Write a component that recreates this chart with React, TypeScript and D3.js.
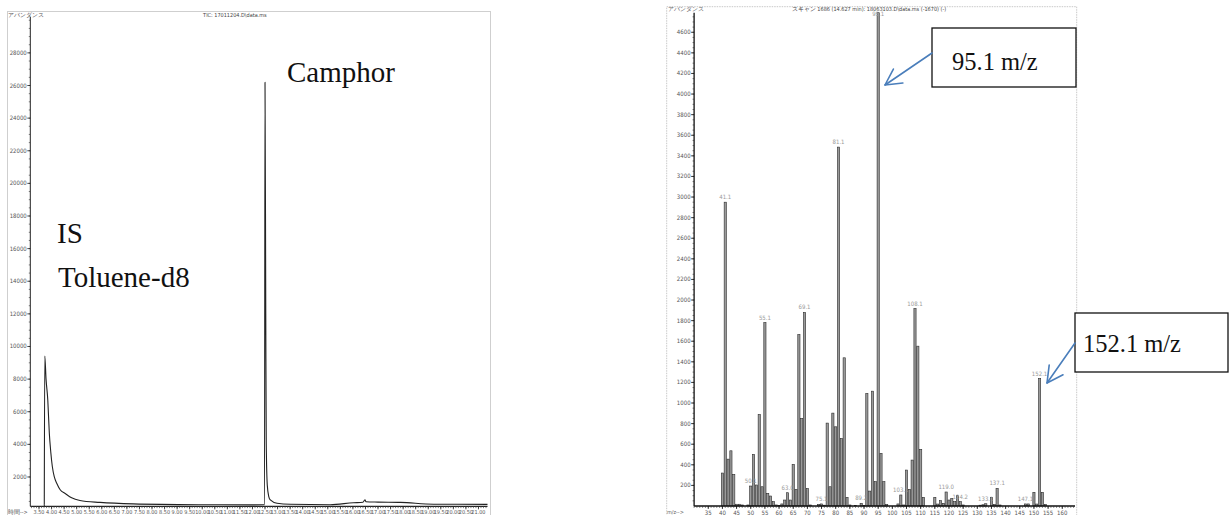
import React from 'react';
import * as d3 from 'd3';

// ---------- Left: TIC chromatogram ----------
const ticTime = [3.71, 3.73, 3.78, 3.85, 3.91, 3.97, 4.03, 4.11, 4.21, 4.35, 4.54, 4.80, 5.13, 5.93, 7.25, 9.92, 12.0, 12.48, 12.50, 12.53, 12.55, 12.59, 12.65, 12.71, 12.98, 13.51, 15.10, 16.02, 16.40, 16.48, 16.52, 17.00, 17.90, 19.21, 21.36];
const ticAbund = [300, 9420, 8000, 6700, 4700, 3500, 2640, 2000, 1600, 1200, 990, 720, 560, 440, 350, 300, 290, 300, 26200, 12000, 4000, 1500, 800, 590, 385, 325, 300, 420, 450, 600, 480, 460, 440, 330, 320];
const ticYTicks = [2000, 4000, 6000, 8000, 10000, 12000, 14000, 16000, 18000, 20000, 22000, 24000, 26000, 28000];
const ticXTicks = [3.5, 4, 4.5, 5, 5.5, 6, 6.5, 7, 7.5, 8, 8.5, 9, 9.5, 10, 10.5, 11, 11.5, 12, 12.5, 13, 13.5, 14, 14.5, 15, 15.5, 16, 16.5, 17, 17.5, 18, 18.5, 19, 19.5, 20, 20.5, 21];
const ticTitle = 'TIC: 17011204.D\\data.ms';

// ---------- Right: mass spectrum ----------
const msMz = [40, 41, 42, 43, 44, 45, 46, 47, 49, 50, 51, 52, 53, 54, 55, 56, 57, 58, 59, 60, 61, 62, 63, 64, 65, 66, 67, 68, 69, 70, 71, 74, 75, 76, 77, 78, 79, 80, 81, 82, 83, 84, 85, 87, 89, 90, 91, 92, 93, 94, 95, 96, 97, 98, 102, 103, 104, 105, 106, 107, 108, 109, 110, 111, 115, 116, 117, 118, 119, 120, 121, 122, 123, 124, 125, 131, 132, 133, 135, 136, 137, 138, 147, 148, 150, 151, 152, 153, 154];
const msAbund = [320, 2950, 455, 536, 307, 17, 17, 10, 10, 194, 501, 204, 889, 187, 1781, 123, 97, 42, 10, 5, 20, 58, 129, 58, 404, 160, 1665, 851, 1879, 170, 10, 15, 20, 8, 805, 187, 902, 769, 3485, 656, 1439, 84, 10, 3, 26, 5, 1093, 145, 1115, 236, 4790, 511, 236, 16, 20, 107, 10, 349, 162, 446, 1917, 1552, 550, 84, 84, 19, 52, 26, 136, 58, 74, 42, 100, 42, 10, 8, 12, 22, 84, 16, 171, 10, 20, 20, 133, 19, 1238, 133, 16];
const msLabelMz = [41, 50, 55, 63, 69, 75, 81, 89, 95, 103, 108, 119, 124, 133, 137, 147, 152];
const msLabelText = ['41.1', '50.1', '55.1', '63.0', '69.1', '75.1', '81.1', '89.2', '95.1', '103.1', '108.1', '119.0', '124.2', '133.1', '137.1', '147.1', '152.1'];
const msYTicks = [200, 400, 600, 800, 1000, 1200, 1400, 1600, 1800, 2000, 2200, 2400, 2600, 2800, 3000, 3200, 3400, 3600, 3800, 4000, 4200, 4400, 4600];
const msXTicks = [35, 40, 45, 50, 55, 60, 65, 70, 75, 80, 85, 90, 95, 100, 105, 110, 115, 120, 125, 130, 135, 140, 145, 150, 155, 160];
const msTitle = 'スキャン 1686 (14.627 min): 18063103.D\\data.ms (-1670) (-)';

const TICK_FONT = "'Liberation Sans Narrow', 'Arial Narrow', 'DejaVu Sans Condensed', sans-serif";
const SERIF = "'Liberation Serif', 'Times New Roman', serif";
const BLUE = '#4a7ebb';

function Arrow({ x1, y1, x2, y2, head = 18, angle = 28 }: { x1: number; y1: number; x2: number; y2: number; head?: number; angle?: number }) {
  const a = Math.atan2(y1 - y2, x1 - x2);
  const r = (angle * Math.PI) / 180;
  const ax = x2 + head * Math.cos(a + r);
  const ay = y2 + head * Math.sin(a + r);
  const bx = x2 + head * Math.cos(a - r);
  const by = y2 + head * Math.sin(a - r);
  return (
    <g stroke={BLUE} strokeWidth={1.6} fill="none" strokeLinecap="round" strokeLinejoin="round">
      <line x1={x1} y1={y1} x2={x2} y2={y2} />
      <polyline points={`${ax},${ay} ${x2},${y2} ${bx},${by}`} />
    </g>
  );
}

export default function App() {
  // Left scales
  const xL = d3.scaleLinear().domain([3.153, 21.36]).range([30.3, 487.5]);
  const yL = d3.scaleLinear().domain([0, 30200]).range([509.6, 17]);
  const axisL = yL(200);
  const ticLine = d3
    .line<number>()
    .x((_, i) => xL(ticTime[i]))
    .y((d) => yL(d))
    .curve(d3.curveMonotoneX)(ticAbund) as string;
  const ticXMinor = d3.range(3.2, 21.35, 0.1);
  const ticYMinor = d3.range(500, 30001, 500);

  // Right scales
  const xR = d3.scaleLinear().domain([30, 164.5]).range([694.1, 1075]);
  const yR = d3.scaleLinear().domain([0, 4790]).range([506, 12.7]);
  const msXMinor = d3.range(30, 165, 1);
  const msYMinor = d3.range(50, 4790, 50);

  return (
    <svg width={1230} height={515} style={{ position: 'absolute', left: 0, top: 0, background: '#fff' }} xmlns="http://www.w3.org/2000/svg">
      <rect x={0} y={0} width={1230} height={515} fill="#fff" />

      {/* ===== Left chart ===== */}
      <rect x={7.5} y={11.5} width={483} height={520} fill="none" stroke="#cfcfcf" strokeWidth={1} />
      <text x={8} y={17} fontSize={5.5} fontFamily={TICK_FONT} fill="#555">アバンダンス</text>
      <text x={xL(11.3)} y={17} fontSize={5.5} fontFamily={TICK_FONT} fill="#444" textAnchor="middle">{ticTitle}</text>
      <text x={8} y={514} fontSize={5.5} fontFamily={TICK_FONT} fill="#555">時間--&gt;</text>

      {/* y axis */}
      <line x1={xL.range()[0]} x2={xL.range()[0]} y1={yL.range()[1]} y2={axisL} stroke="#222" strokeWidth={1} />
      {ticYMinor.map((v) => (
        <line key={'lym' + v} x1={xL.range()[0] - 1.5} x2={xL.range()[0]} y1={yL(v)} y2={yL(v)} stroke="#444" strokeWidth={0.7} />
      ))}
      {ticYTicks.map((v) => (
        <g key={'lyt' + v}>
          <line x1={xL.range()[0] - 3} x2={xL.range()[0]} y1={yL(v)} y2={yL(v)} stroke="#222" strokeWidth={0.8} />
          <text x={xL.range()[0] - 3.5} y={yL(v) + 2} fontSize={6} fontFamily={TICK_FONT} fill="#555" textAnchor="end">{v}</text>
        </g>
      ))}

      {/* x axis */}
      <line x1={xL.range()[0]} x2={xL.range()[1]} y1={axisL} y2={axisL} stroke="#222" strokeWidth={1.2} />
      {ticXMinor.map((t, i) => (
        <line key={'lxm' + i} x1={xL(t)} x2={xL(t)} y1={axisL} y2={axisL + 1.8} stroke="#444" strokeWidth={0.7} />
      ))}
      {ticXTicks.map((t) => (
        <g key={'lxt' + t}>
          <line x1={xL(t)} x2={xL(t)} y1={axisL} y2={axisL + 3} stroke="#222" strokeWidth={0.8} />
          <text x={xL(t)} y={axisL + 8} fontSize={5.5} fontFamily={TICK_FONT} fill="#555" textAnchor="middle">{t.toFixed(2)}</text>
        </g>
      ))}

      {/* trace */}
      <path d={ticLine} fill="none" stroke="#222" strokeWidth={1.1} strokeLinejoin="round" />
      <line x1={xL(ticTime[0])} x2={xL(ticTime[0])} y1={axisL} y2={yL(ticAbund[0])} stroke="#222" strokeWidth={1} />

      {/* annotations */}
      <text x={287} y={81.7} fontSize={29} fontFamily={SERIF} fill="#111">Camphor</text>
      <text x={57} y={242.7} fontSize={29} fontFamily={SERIF} fill="#111">IS</text>
      <text x={58} y={287.3} fontSize={29} fontFamily={SERIF} fill="#111">Toluene-d8</text>

      {/* ===== Right chart ===== */}
      <rect x={666.7} y={6.7} width={410} height={520} fill="none" stroke="#c8c8c8" strokeWidth={1} strokeDasharray="1.5,1" />
      <text x={668} y={11} fontSize={5.5} fontFamily={TICK_FONT} fill="#666">アバンダンス</text>
      <text x={869} y={11} fontSize={5.5} fontFamily={TICK_FONT} fill="#444" textAnchor="middle">{msTitle}</text>
      <text x={667} y={514} fontSize={5.5} fontFamily={TICK_FONT} fill="#666">m/z--&gt;</text>

      {/* bars */}
      {msMz.map((m, i) => (
        <rect key={'bar' + m} x={xR(m) - 1.1} width={2.2} y={yR(msAbund[i])} height={yR(0) - yR(msAbund[i])} fill="#9a9a9a" stroke="#2a2a2a" strokeWidth={0.6} />
      ))}
      {msLabelMz.map((m, i) => {
        const v = msAbund[msMz.indexOf(m)];
        const y = Math.max(yR(v) - 3, 16);
        return (
          <text key={'lbl' + m} x={xR(m)} y={y} fontSize={6} fontFamily={TICK_FONT} fill="#999" textAnchor="middle">{msLabelText[i]}</text>
        );
      })}

      {/* y axis */}
      <line x1={xR.range()[0]} x2={xR.range()[0]} y1={yR.range()[1]} y2={yR(0)} stroke="#111" strokeWidth={1.3} />
      {msYMinor.map((v) => (
        <line key={'rym' + v} x1={xR.range()[0] - 1.5} x2={xR.range()[0]} y1={yR(v)} y2={yR(v)} stroke="#333" strokeWidth={0.7} />
      ))}
      {msYTicks.map((v) => (
        <g key={'ryt' + v}>
          <line x1={xR.range()[0] - 3} x2={xR.range()[0]} y1={yR(v)} y2={yR(v)} stroke="#111" strokeWidth={0.8} />
          <text x={xR.range()[0] - 3.5} y={yR(v) + 2} fontSize={6} fontFamily={TICK_FONT} fill="#555" textAnchor="end">{v}</text>
        </g>
      ))}

      {/* x axis */}
      <line x1={xR.range()[0]} x2={xR.range()[1]} y1={yR(0)} y2={yR(0)} stroke="#111" strokeWidth={1.3} />
      {msXMinor.map((m) => (
        <line key={'rxm' + m} x1={xR(m)} x2={xR(m)} y1={yR(0)} y2={yR(0) + 1.8} stroke="#333" strokeWidth={0.7} />
      ))}
      {msXTicks.map((m) => (
        <g key={'rxt' + m}>
          <line x1={xR(m)} x2={xR(m)} y1={yR(0)} y2={yR(0) + 3} stroke="#111" strokeWidth={0.8} />
          <text x={xR(m)} y={yR(0) + 8.5} fontSize={6} fontFamily={TICK_FONT} fill="#555" textAnchor="middle">{m}</text>
        </g>
      ))}

      {/* callouts */}
      <rect x={932} y={28} width={144} height={59} fill="#fff" stroke="#111" strokeWidth={1.3} />
      <text x={952} y={70} fontSize={24.5} fontFamily={SERIF} fill="#111">95.1 m/z</text>
      <Arrow x1={932} y1={53} x2={885} y2={85} />

      <rect x={1075} y={313} width={153} height={59} fill="#fff" stroke="#111" strokeWidth={1.3} />
      <text x={1083} y={352} fontSize={24.5} fontFamily={SERIF} fill="#111">152.1 m/z</text>
      <Arrow x1={1075} y1={343} x2={1047} y2={383} />
    </svg>
  );
}
